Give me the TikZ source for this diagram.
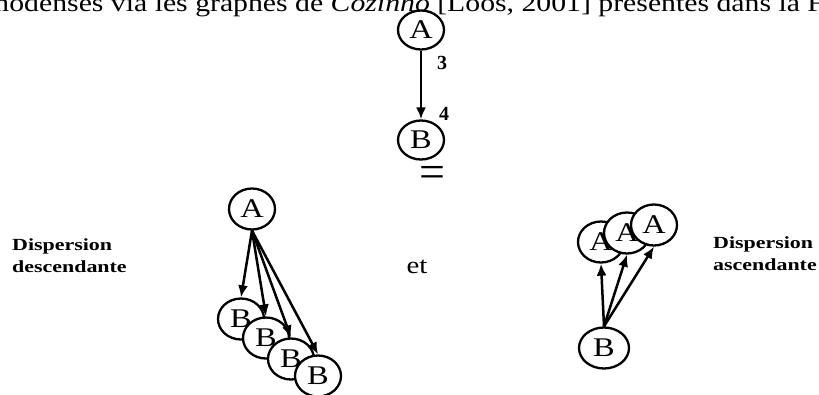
\documentclass[tikz,border=0pt]{standalone}
\usepackage{fontspec}
\setmainfont{Liberation Serif}
\usetikzlibrary{shapes.geometric,arrows.meta}
\begin{document}
\begin{tikzpicture}[x=1pt,y=-1pt,
  nd/.style={ellipse, draw, line width=2.3pt, fill=white, minimum width=46pt, minimum height=39pt, inner sep=0pt, font=\fontsize{27}{27}\selectfont},
  big/.style={minimum height=41pt},
  arr/.style={line width=2.5pt, -{Latex[length=12pt,width=10pt]}},
  lab/.style={font=\fontsize{17}{22}\selectfont\bfseries, align=left, anchor=base west, inner sep=0pt},
  num/.style={font=\fontsize{20}{20}\selectfont\bfseries, inner sep=0pt}]
\useasboundingbox (0,0) rectangle (819,394);
\clip (0,0) rectangle (819,394);
\fill[white] (0,0) rectangle (819,394);
% top text line (cut by the upper edge)
\node[anchor=base west, inner sep=0pt] (head) at (-14,11) {\scalebox{1.19}[1]{\fontsize{25}{25}\selectfont modensés via les graphes de \textit{Cozinho} [Loos, 2001] présentés dans la F}};
% top graph
\node[nd] (tA) at (421,30) {\scalebox{1.2}[1]{A}};
\node[nd] (tB) at (421,140) {\scalebox{1.2}[1]{B}};
\draw[arr] (tA) -- (tB);
\node[num] (n3) at (442,63) {3};
\node[num] (n4) at (444,114) {4};
\node[inner sep=0pt, font=\fontsize{46}{46}\selectfont] (eq) at (432,177) {=};
% descending dispersion
\node[lab] (ld) at (12,272) {\scalebox{1.29}[1]{Dispersion}\\\scalebox{1.29}[1]{descendante}};
\node[nd,big] (dA) at (252,209) {\scalebox{1.2}[1]{A}};
\node[nd,big] (dB1) at (241,319) {\scalebox{1.2}[1]{B}};
\node[nd,big] (dB2) at (266,338) {\scalebox{1.2}[1]{B}};
\node[nd,big] (dB3) at (291,359) {\scalebox{1.2}[1]{B}};
\node[nd,big] (dB4) at (318,376) {\scalebox{1.2}[1]{B}};
\draw[arr] (dA.south) -- (dB1.north);
\draw[arr] (dA.south) -- (dB2.north);
\draw[arr] (dA.south) -- (dB3.north);
\draw[arr] (dA.south) -- (dB4.north);
% et
\node[font=\fontsize{24}{24}\selectfont] (et) at (417,267) {\scalebox{1.2}[1]{et}};
% ascending dispersion
\node[nd,big] (aA1) at (601,242) {\scalebox{1.2}[1]{A}};
\node[nd,big] (aA2) at (627,233) {\scalebox{1.2}[1]{A}};
\node[nd,big] (aA3) at (654,225) {\scalebox{1.2}[1]{A}};
\node[nd,big,minimum width=50pt] (aB) at (604,348) {\scalebox{1.2}[1]{B}};
\draw[arr] (aB.north) -- (aA1.south);
\draw[arr] (aB.north) -- (aA2.south);
\draw[arr] (aB.north) -- (aA3.south);
\node[lab] (la) at (713,270) {\scalebox{1.29}[1]{Dispersion}\\\scalebox{1.29}[1]{ascendante}};
\end{tikzpicture}
\end{document}
